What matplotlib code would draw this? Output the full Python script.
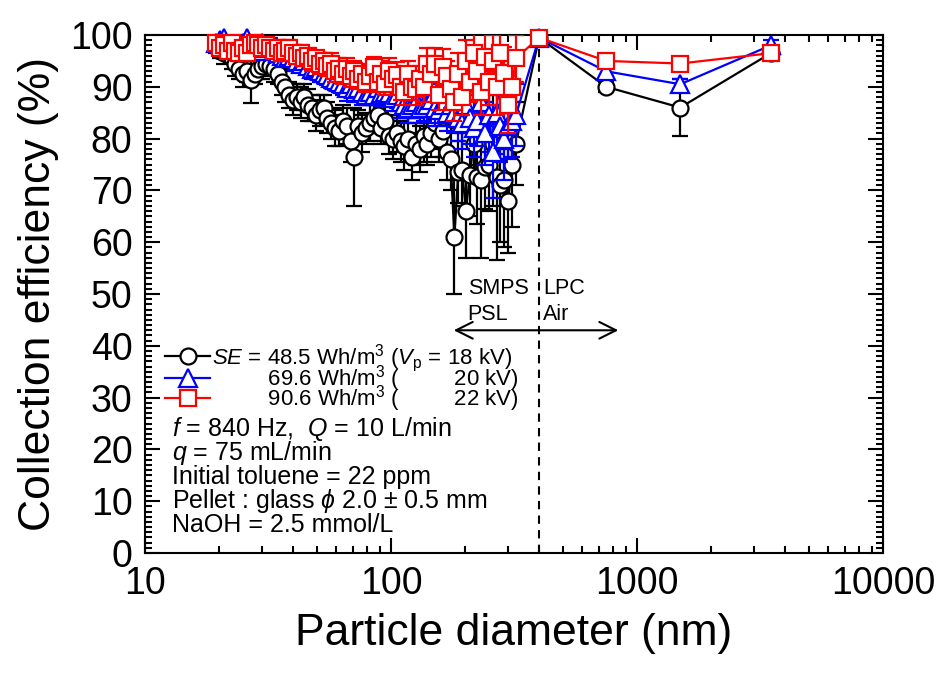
import matplotlib
matplotlib.use("Agg")
import matplotlib.pyplot as plt
from matplotlib.ticker import MultipleLocator, LogLocator, NullFormatter, FixedLocator, FixedFormatter

plt.rcParams['font.family'] = ['Liberation Sans', 'DejaVu Sans']
plt.rcParams['mathtext.fontset'] = 'custom'
plt.rcParams['mathtext.rm'] = 'Liberation Sans'
plt.rcParams['mathtext.it'] = 'Liberation Sans:italic'
plt.rcParams['mathtext.bf'] = 'Liberation Sans:bold'

# SMPS size bins (nm), shared by the three runs
smps_d = [19.5, 20.2, 20.9, 21.7, 22.5, 23.3, 24.1, 25.0, 25.9, 26.9,
          27.9, 28.9, 30.0, 31.1, 32.2, 33.4, 34.6, 35.9, 37.2, 38.5,
          40.0, 41.4, 42.9, 44.5, 46.1, 47.8, 49.6, 51.4, 53.3, 55.2,
          57.3, 59.4, 61.5, 63.8, 66.1, 68.5, 71.0, 73.7, 76.4, 79.1,
          82.0, 85.1, 88.2, 91.4, 94.7, 98.2, 101.8, 105.5, 109.4, 113.4,
          117.6, 121.9, 126.3, 131.0, 135.8, 140.7, 145.9, 151.2, 156.8, 162.5,
          168.5, 174.7, 181.1, 187.7, 194.6, 201.7, 209.1, 216.7, 224.7, 232.9,
          241.4, 250.3, 259.5, 269.0, 278.8, 289.0, 299.6, 310.6, 322.0]
# LPC sizes (nm)
lpc_d = [400, 750, 1500, 3500]

# SE = 48.5 Wh/m3
eff_48 = [98.0, 97.0, 96.5, 97.5, 95.5, 94.5, 93.5, 92.5, 93.0, 91.3,
          92.5, 93.5, 94.0, 94.5, 94.0, 93.5, 92.5, 91.0, 90.0, 88.5,
          87.5, 88.0, 87.0, 88.0, 86.5, 86.0, 84.5, 85.5, 86.0, 84.0,
          83.0, 82.0, 81.5, 83.5, 82.5, 79.5, 76.5, 82.5, 81.0, 82.0,
          83.0, 84.0, 84.5, 82.0, 83.5, 80.5, 80.0, 81.0, 79.5, 78.5,
          80.0, 76.5, 79.0, 78.0, 80.5, 79.0, 81.0, 83.0, 80.0, 81.5,
          77.5, 76.0, 61.0, 73.5, 74.0, 66.0, 73.0, 79.0, 72.5, 72.0,
          74.5, 75.0, 79.0, 72.5, 71.0, 72.0, 68.0, 75.0, 79.0]
err_48 = [1.5, 1.5, 2.0, 1.5, 2.0, 2.5, 2.0, 2.5, 2.0, 4.5,
          2.0, 2.0, 2.5, 2.0, 2.0, 2.5, 2.0, 2.5, 3.0, 2.5,
          3.0, 2.5, 3.0, 2.5, 3.0, 2.5, 3.0, 3.0, 2.5, 3.0,
          3.0, 3.5, 3.0, 3.0, 3.5, 4.0, 9.5, 3.0, 3.5, 3.0,
          3.5, 3.0, 3.5, 3.0, 4.0, 3.5, 4.0, 3.5, 4.0, 4.5,
          4.0, 4.5, 4.0, 4.5, 5.0, 4.0, 4.5, 5.0, 4.5, 5.0,
          5.5, 6.0, 11.0, 6.0, 7.0, 9.0, 8.0, 7.0, 9.0, 15.0,
          8.0, 9.0, 12.0, 16.0, 11.0, 13.0, 10.0, 12.0, 8.0]
lpc_48 = [99.5, 90.0, 86.0, 96.5]
lpc_err_48 = [0.5, 1.0, 5.5, 1.0]

# SE = 69.6 Wh/m3
eff_69 = [98.5, 99.0, 99.5, 98.0, 97.5, 98.0, 97.5, 98.5, 99.5, 98.0,
          97.5, 97.0, 98.5, 97.5, 98.0, 97.0, 96.5, 96.0, 95.5, 96.0,
          95.5, 95.0, 94.5, 95.0, 94.0, 93.5, 93.8, 93.0, 92.7, 92.3,
          91.7, 91.3, 91.0, 90.5, 89.8, 90.5, 89.5, 89.8, 89.0, 88.5,
          89.0, 88.5, 89.8, 88.8, 89.0, 88.8, 87.8, 88.5, 87.0, 86.5,
          86.0, 86.5, 87.0, 86.0, 86.5, 86.5, 87.5, 86.0, 85.5, 86.5,
          85.0, 86.5, 85.0, 84.0, 83.0, 86.5, 84.0, 82.0, 83.5, 87.0,
          81.0, 84.5, 77.5, 85.0, 82.5, 80.0, 82.5, 83.5, 84.5]
err_69 = [1.0, 1.0, 1.0, 1.0, 1.5, 1.0, 1.5, 1.0, 1.0, 1.5,
          1.5, 1.5, 1.0, 1.5, 1.5, 1.5, 1.5, 1.5, 1.5, 1.5,
          1.5, 2.0, 1.5, 2.0, 1.5, 2.0, 1.5, 2.0, 2.0, 2.0,
          2.0, 2.0, 2.0, 2.0, 2.5, 2.0, 2.5, 2.0, 2.5, 2.0,
          2.5, 2.0, 2.5, 2.5, 2.5, 2.5, 2.5, 2.5, 3.0, 2.5,
          3.0, 2.5, 3.0, 3.0, 3.0, 3.5, 3.0, 3.5, 3.0, 3.5,
          3.5, 4.0, 4.0, 4.5, 5.0, 4.5, 5.0, 5.5, 5.0, 6.0,
          6.0, 7.0, 9.0, 8.0, 7.0, 8.0, 6.5, 7.0, 6.0]
lpc_69 = [99.5, 93.0, 90.5, 98.0]
lpc_err_69 = [0.5, 1.0, 1.0, 1.0]

# SE = 90.6 Wh/m3
eff_90 = [98.5, 97.5, 98.0, 97.0, 98.5, 97.0, 96.5, 97.5, 96.5, 98.0,
          98.5, 98.0, 97.5, 98.0, 97.5, 97.0, 97.5, 96.5, 97.0, 97.5,
          96.5, 96.0, 96.5, 95.5, 96.0, 95.0, 95.5, 94.5, 95.0, 94.0,
          94.5, 93.0, 93.5, 92.5, 93.5, 92.0, 93.0, 91.5, 92.5, 91.0,
          92.0, 93.8, 91.0, 92.5, 90.5, 93.0, 91.5, 92.3, 90.0, 89.0,
          92.5, 90.0, 89.5, 91.5, 90.0, 94.5, 92.5, 94.5, 88.5, 93.8,
          92.0, 89.5, 87.0, 92.5, 88.0, 95.0, 91.0, 96.5, 93.0, 89.0,
          95.8, 91.0, 95.0, 90.0, 96.5, 92.7, 86.5, 90.0, 95.5]
err_90 = [1.5, 1.5, 1.5, 1.5, 1.5, 1.5, 1.5, 1.5, 1.5, 1.5,
          1.5, 1.5, 1.5, 1.5, 1.5, 1.5, 1.5, 1.5, 1.5, 1.5,
          1.5, 1.5, 1.5, 1.5, 1.5, 2.0, 1.5, 2.0, 1.5, 2.0,
          2.0, 2.0, 2.0, 2.0, 2.0, 2.0, 2.0, 2.0, 2.0, 2.0,
          2.0, 2.0, 2.0, 2.5, 2.0, 2.5, 2.5, 2.5, 2.5, 2.5,
          2.5, 2.5, 3.0, 2.5, 3.0, 3.0, 3.0, 3.0, 3.0, 3.5,
          3.0, 3.5, 3.5, 4.0, 3.5, 4.0, 4.0, 4.5, 4.0, 4.5,
          5.0, 4.5, 5.0, 5.5, 5.0, 5.0, 5.5, 5.0, 4.5]
lpc_90 = [99.5, 95.0, 94.5, 96.5]
lpc_err_90 = [0.5, 1.0, 1.0, 1.0]

labels = [r"$\it{SE}$ = 48.5 Wh/m$^3$ ($\it{V}_\mathrm{p}$ = 18 kV)",
          r"         69.6 Wh/m$^3$ (         20 kV)",
          r"         90.6 Wh/m$^3$ (         22 kV)"]
conditions = [r"$\it{f}$ = 840 Hz,  $\it{Q}$ = 10 L/min",
              r"$\it{q}$ = 75 mL/min",
              "Initial toluene = 22 ppm",
              r"Pellet : glass $\it{\phi}$ 2.0 $\pm$ 0.5 mm",
              "NaOH = 2.5 mmol/L"]

fig = plt.figure(figsize=(9.42, 6.75), dpi=100)
ax = fig.add_axes([0.1539, 0.1807, 0.7834, 0.7674])

series = [
    (eff_48, err_48, lpc_48, lpc_err_48, 'black', 'o', 11.5),
    (eff_69, err_69, lpc_69, lpc_err_69, 'blue', '^', 13),
    (eff_90, err_90, lpc_90, lpc_err_90, 'red', 's', 12),
]
handles = []
for i, (eff, err, lpc, lpc_err, col, mk, ms) in enumerate(series):
    d = smps_d + lpc_d
    y = eff + lpc
    e = err + lpc_err
    ax.errorbar(d, y, yerr=e, fmt='none', ecolor=col, elinewidth=1.6,
                capsize=6, capthick=1.6, zorder=2 + i)
    h, = ax.plot(d, y, '-', color=col, lw=1.6, marker=mk, ms=ms,
                 mfc='white', mec=col, mew=1.6, zorder=2.5 + i,
                 clip_on=False)
    handles.append(h)

ax.axvline(400, color='black', ls=(0, (4, 3)), lw=1.5, zorder=1)
ax.annotate('', xy=(180, 43), xytext=(840, 43),
            arrowprops=dict(arrowstyle='<->', color='black', lw=1.5,
                            mutation_scale=30, shrinkA=0, shrinkB=0))
ax.text(205, 50, 'SMPS', fontsize=15.5, ha='left', va='baseline')
ax.text(205, 45, 'PSL', fontsize=15.5, ha='left', va='baseline')
ax.text(415, 50, 'LPC', fontsize=15.5, ha='left', va='baseline')
ax.text(415, 45, 'Air', fontsize=15.5, ha='left', va='baseline')

leg = ax.legend(handles, labels, loc='upper left',
                bbox_to_anchor=(0.027, 0.408), frameon=False, fontsize=16,
                handlelength=2.05, handletextpad=0.05, labelspacing=-0.48,
                borderpad=0, borderaxespad=0)

for k, s in enumerate(conditions):
    ax.text(0.036, 0.226 - k * 0.0463, s, transform=ax.transAxes,
            fontsize=18, ha='left', va='baseline')

ax.set_xscale('log')
ax.set_xlim(10, 10000)
ax.set_ylim(0, 100)
ax.xaxis.set_major_locator(FixedLocator([10, 100, 1000, 10000]))
ax.xaxis.set_major_formatter(FixedFormatter(['10', '100', '1000', '10000']))
ax.xaxis.set_minor_locator(LogLocator(base=10, subs=range(2, 10)))
ax.xaxis.set_minor_formatter(NullFormatter())
ax.yaxis.set_major_locator(MultipleLocator(10))
ax.yaxis.set_minor_locator(MultipleLocator(1))

ax.tick_params(which='both', direction='in', top=True, right=True, width=1.5)
ax.tick_params(which='major', length=11, labelsize=27, pad=9)
ax.tick_params(which='minor', length=5)
for sp in ax.spines.values():
    sp.set_linewidth(1.5)

ax.set_xlabel('Particle diameter (nm)', fontsize=32, labelpad=8)
ax.set_ylabel('Collection efficiency (%)', fontsize=32, labelpad=8)

fig.savefig('out.png', dpi=100)
